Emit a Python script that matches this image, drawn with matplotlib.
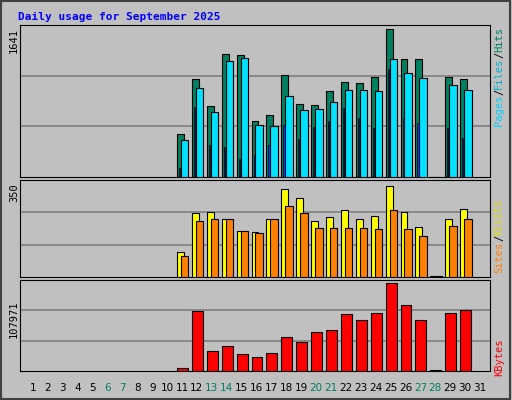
import matplotlib
matplotlib.use("Agg")
import matplotlib.pyplot as plt
from matplotlib.patches import Rectangle

days = list(range(1, 31))
data_days = list(range(11, 31))

hits = [478, 1087, 793, 1359, 1348, 620, 685, 1130, 815, 804, 956, 1054, 1043, 1109, 1641, 1304, 1304, 3, 1109, 1087]
files = [413, 989, 717, 1282, 1315, 576, 565, 902, 739, 750, 837, 967, 967, 956, 1304, 1152, 1098, 2, 1022, 967]
pages = [98, 772, 359, 337, 196, 239, 359, 576, 424, 554, 620, 760, 652, 543, 1195, 652, 598, 1, 543, 435]
visits = [92, 236, 243, 214, 169, 166, 217, 328, 295, 206, 221, 247, 217, 225, 339, 243, 184, 4, 214, 254]
sites = [77, 206, 214, 214, 169, 162, 214, 265, 236, 181, 181, 181, 181, 177, 247, 177, 151, 3, 188, 214]
kbytes = [3770, 74000, 25100, 30100, 21300, 17600, 22600, 41400, 35200, 47700, 50200, 70300, 62800, 71600,
          107971, 80400, 62800, 1200, 71600, 75300]
weekend = [6, 7, 13, 14, 20, 21, 27, 28]

BG = "#c0c0c0"
fig = plt.figure(figsize=(5.12, 4.0), dpi=100)
fig.patch.set_facecolor(BG)
fig.patches.append(Rectangle((0.002, 0.003), 0.994, 0.994, transform=fig.transFigure,
                             fill=False, edgecolor="#404040", lw=1.5))
fig.text(0.035, 0.958, "Daily usage for September 2025", color="#0000ff", fontsize=8,
         family="DejaVu Sans Mono", weight="bold", va="center")

def panel(bottom, height, top):
    ax = fig.add_axes([20 / 512, bottom, 470 / 512, height])
    ax.set_facecolor(BG)
    ax.set_xlim(0.13, 31.67)
    ax.set_ylim(0, top)
    ax.set_xticks([])
    ax.set_yticks([top / 3, 2 * top / 3])
    ax.tick_params(left=False, labelleft=False)
    ax.grid(axis="y", color="#808080", lw=1.2)
    ax.set_axisbelow(True)
    for s in ax.spines.values():
        s.set_color("black")
    return ax

def bars(ax, vals, left, width, color, lw=0.8):
    ax.bar([d + left for d in data_days], vals, width=width, align="edge",
           color=color, edgecolor="black", lw=lw, zorder=3)

ax1 = panel(1 - 177 / 400, 152 / 400, 1686)
bars(ax1, hits, -0.33, 0.46, "#008060")
bars(ax1, files, -0.07, 0.5, "#00e0ff")
bars(ax1, pages, -0.2, 0.08, "#0040ff", lw=0.5)

ax2 = panel(1 - 277 / 400, 97 / 400, 360)
bars(ax2, visits, -0.33, 0.46, "#ffff00")
bars(ax2, sites, -0.07, 0.5, "#ff8000")

ax3 = panel(1 - 371 / 400, 91 / 400, 111700)
bars(ax3, kbytes, -0.33, 0.73, "#ff0000")

for d in range(1, 32):
    fig.text((33 + (d - 1) * 14.9) / 512, 1 - 388 / 400, str(d), ha="center", va="center",
             fontsize=7.5, color="#008060" if d in weekend else "black")

lab = dict(rotation=90, fontsize=7.5, family="DejaVu Sans Mono", ha="center", va="top")
fig.text(14 / 512, 1 - 28 / 400, "1641", **lab)
fig.text(14 / 512, 1 - 183 / 400, "350", **lab)
fig.text(14 / 512, 1 - 300 / 400, "107971", **lab)

def right_label(parts, y_top):
    y = y_top
    for txt, col in parts:
        fig.text(499 / 512, 1 - y / 400, txt, color=col, rotation=90, fontsize=7.5,
                 family="DejaVu Sans Mono", ha="center", va="top")
        y += len(txt) * 6.2

right_label([("Hits", "#008060"), ("/", "black"), ("Files", "#00b0d0"), ("/", "black"), ("Pages", "#00d0ff")], 27)
right_label([("Visits", "#e0e000"), ("/", "black"), ("Sites", "#ff8000")], 198)
right_label([("KBytes", "#ff0000")], 338)

fig.savefig("out.png", dpi=100, facecolor=BG)
